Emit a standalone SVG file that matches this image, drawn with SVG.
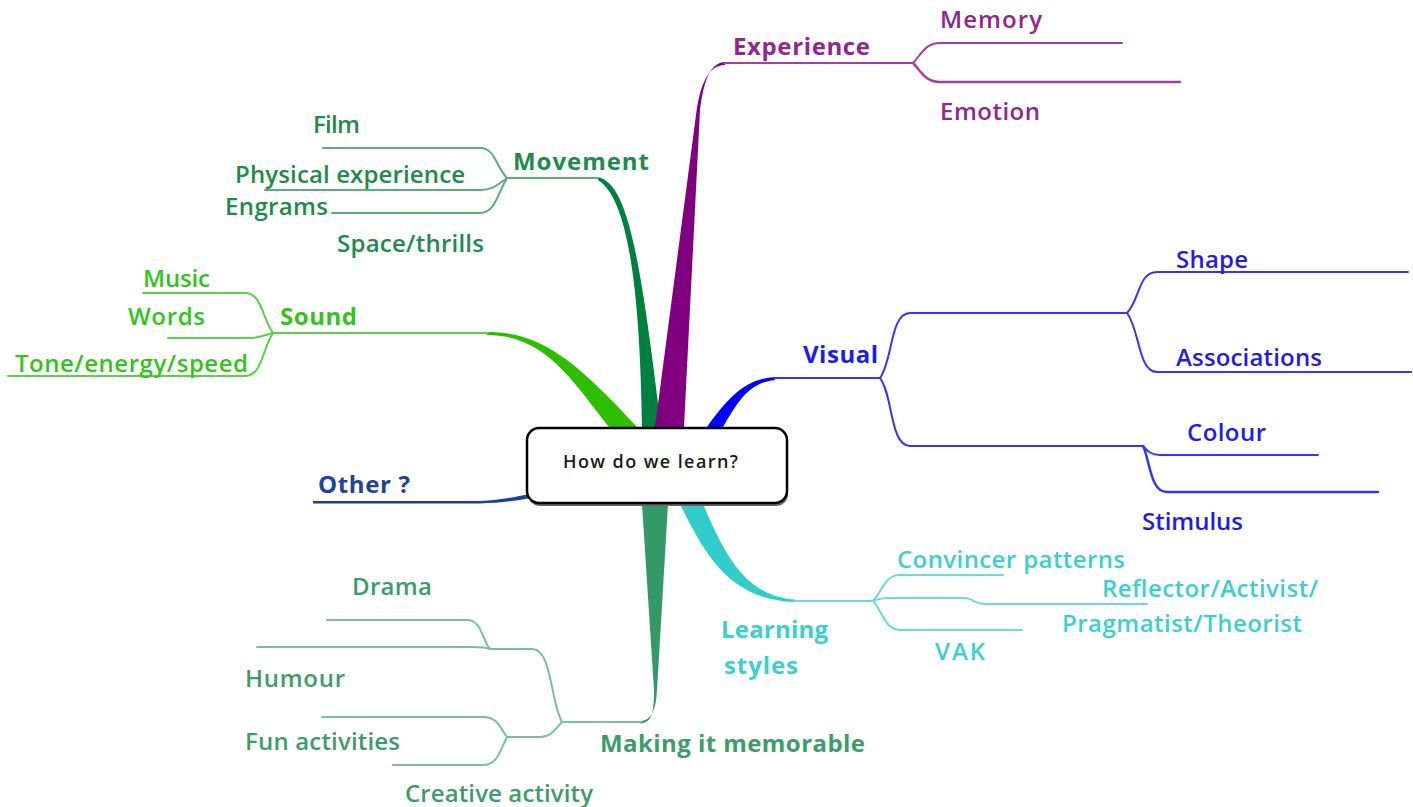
<svg xmlns="http://www.w3.org/2000/svg" width="1413" height="807" viewBox="0 0 1413 807">
<style>
text{font-family:"Open Sans","Liberation Sans",sans-serif;font-size:24px;font-weight:600}
.b{font-weight:bold}
.ln{fill:none;stroke-width:2;stroke-linecap:round}
.pu{fill:#91268F}.pul{stroke:#A040A0}
.mv{fill:#1E8B4C}.mvl{stroke:#5AAE7A}
.so{fill:#33C41A}.sol{stroke:#5CD145}
.vi{fill:#1C1CF0}.vil{stroke:#3535F5}
.le{fill:#3CCFCF}.lel{stroke:#6ADADA}
.ma{fill:#3D9C6B}.mal{stroke:#7ABF9B}
.ot{fill:#23409A}
</style>
<rect width="1413" height="807" fill="#fff"/>
<g id="connectors">
  <path d="M487,332 C540,332 575,360 637,427 L609,427 C572,380 545,335 487,335 Z" fill="#2DBE00"/>
  <path class="ln sol" d="M273,333 L488,333"/>
  <path d="M598,177 C628,184 640,255 661,427 L642,427 C640,300 630,200 598,180 Z" fill="#00803F"/>
  <path class="ln mvl" d="M507,178 L598,178"/>
  <path d="M725,62 C710,63 704,80 700,110 L684,427 L655,427 L696,115 C700,85 708,65 725,65 Z" fill="#800080"/>
  <path class="ln pul" d="M724,63 L913,63"/>
  <path d="M707,427 C728,398 745,379 775,377 L775,380 C748,383 738,402 723,427 Z" fill="#0000FF"/>
  <path class="ln vil" d="M774,378 L880,378"/>
  <path d="M680,504 C705,555 730,600 795,602 L795,599.5 C745,596 725,555 703,504 Z" fill="#33CCCC"/>
  <path class="ln lel" d="M794,601 L873,601"/>
  <path d="M642,504 L668,504 L657,690 C656,712 650,721 640,721 L640,723.5 C652,723 654,712 654,690 Z" fill="#339966"/>
  <path class="ln mal" d="M641,722 L562,722"/>
  <path d="M313,501 L480,501 C500,500 515,497 530,494 L531,498 C515,501 500,503 480,503.5 L313,503.5 Z" fill="#1F3F99"/>
  <path class="ln pul" d="M913,63 C921,55 925,43 940,43 L1122,43"/>
  <path class="ln pul" style="stroke-width:2.5" d="M913,63 C921,71 925,82 940,82 L1180,82"/>
  <path class="ln mvl" d="M507,178 C495,165 495,148 480,148 L323,148"/>
  <path class="ln mvl" d="M507,178 C497,185 493,190 480,190 L265,190"/>
  <path class="ln mvl" d="M507,178 C497,195 495,213 480,213 L332,213"/>
  <path class="ln sol" d="M273,333 C262,318 262,293 245,293 L143,293"/>
  <path class="ln sol" d="M273,333 C262,336 258,338 250,338 L168,338"/>
  <path class="ln sol" d="M273,333 C262,350 262,376 245,376 L8,376"/>
  <path class="ln vil" d="M880,378 C893,360 890,313 910,313 L1127,313"/>
  <path class="ln vil" d="M880,378 C893,395 890,446 910,446 L1143,446"/>
  <path class="ln vil" d="M1127,313 C1140,300 1138,272 1157,272 L1408,272"/>
  <path class="ln vil" d="M1127,313 C1140,330 1138,372 1157,372 L1411,372"/>
  <path class="ln vil" d="M1143,446 C1148,452 1152,455 1160,455 L1318,455"/>
  <path class="ln vil" style="stroke-width:2.5" d="M1143,446 C1150,460 1150,492 1167,492 L1378,492"/>
  <path class="ln lel" d="M873,601 C883,590 885,575 900,575 L1003,575"/>
  <path class="ln lel" d="M873,601 C880,598 885,598 895,598 L965,598 C972,598 975,604 985,604 L1147,604"/>
  <path class="ln lel" d="M873,601 C883,612 885,630 900,630 L1022,630"/>
  <path class="ln mal" d="M562,722 C550,700 552,649 532,649 L490,649"/>
  <path class="ln mal" d="M490,649 C482,640 482,620 467,620 L327,620"/>
  <path class="ln mal" d="M490,649 C484,647 480,647 473,647 L257,647"/>
  <path class="ln mal" d="M562,722 C553,732 550,737 540,737 L507,737"/>
  <path class="ln mal" d="M507,737 C500,728 498,717 483,717 L322,717"/>
  <path class="ln mal" d="M507,737 C500,750 498,765 483,765 L393,765"/>
</g>
<g id="center">
  <rect x="528" y="430" width="260" height="76" rx="12" fill="#666"/>
  <rect x="527" y="428" width="260" height="75" rx="12" fill="#fff" stroke="#000" stroke-width="2.5"/>
  <text x="563" y="468" textLength="175" lengthAdjust="spacing" style="font-size:18px" fill="#1a1a1a">How do we learn?</text>
</g>
<g id="experience">
  <text class="pu b" x="733" y="55" textLength="137" lengthAdjust="spacing">Experience</text>
  <text class="pu" x="940" y="28" textLength="102" lengthAdjust="spacing">Memory</text>
  <text class="pu" x="940" y="120" textLength="100" lengthAdjust="spacing">Emotion</text>
</g>
<g id="movement">
  <text class="mv b" x="513" y="170" textLength="136" lengthAdjust="spacing">Movement</text>
  <text class="mv" x="313" y="133" textLength="47" lengthAdjust="spacing">Film</text>
  <text class="mv" x="235" y="183" textLength="230" lengthAdjust="spacing">Physical experience</text>
  <text class="mv" x="225" y="215" textLength="103" lengthAdjust="spacing">Engrams</text>
  <text class="mv" x="337" y="252" textLength="147" lengthAdjust="spacing">Space/thrills</text>
</g>
<g id="sound">
  <text class="so b" x="280" y="325" textLength="77" lengthAdjust="spacing">Sound</text>
  <text class="so" x="143" y="287" textLength="67" lengthAdjust="spacing">Music</text>
  <text class="so" x="128" y="325" textLength="77" lengthAdjust="spacing">Words</text>
  <text class="so" x="15" y="372" textLength="233" lengthAdjust="spacing">Tone/energy/speed</text>
</g>
<g id="visual">
  <text class="vi b" x="803" y="363" textLength="75" lengthAdjust="spacing">Visual</text>
  <text class="vi" x="1176" y="268" textLength="72" lengthAdjust="spacing">Shape</text>
  <text class="vi" x="1176" y="366" textLength="146" lengthAdjust="spacing">Associations</text>
  <text class="vi" x="1187" y="441" textLength="79" lengthAdjust="spacing">Colour</text>
  <text class="vi" x="1142" y="530" textLength="101" lengthAdjust="spacing">Stimulus</text>
</g>
<g id="other">
  <text class="ot b" x="318" y="493" textLength="92" lengthAdjust="spacing">Other ?</text>
</g>
<g id="learning-styles">
  <text class="le b" x="721" y="638" textLength="107" lengthAdjust="spacing">Learning</text>
  <text class="le b" x="724" y="674" textLength="74" lengthAdjust="spacing">styles</text>
  <text class="le" x="897" y="568" textLength="228" lengthAdjust="spacing">Convincer patterns</text>
  <text class="le" x="1102" y="597" textLength="216" lengthAdjust="spacing">Reflector/Activist/</text>
  <text class="le" x="1062" y="632" textLength="240" lengthAdjust="spacing">Pragmatist/Theorist</text>
  <text class="le" x="935" y="660" textLength="50" lengthAdjust="spacing">VAK</text>
</g>
<g id="making-it-memorable">
  <text class="ma b" x="600" y="752" textLength="265" lengthAdjust="spacing">Making it memorable</text>
  <text class="ma" x="352" y="595" textLength="80" lengthAdjust="spacing">Drama</text>
  <text class="ma" x="245" y="687" textLength="100" lengthAdjust="spacing">Humour</text>
  <text class="ma" x="245" y="750" textLength="155" lengthAdjust="spacing">Fun activities</text>
  <text class="ma" x="405" y="802" textLength="188" lengthAdjust="spacing">Creative activity</text>
</g>
</svg>
